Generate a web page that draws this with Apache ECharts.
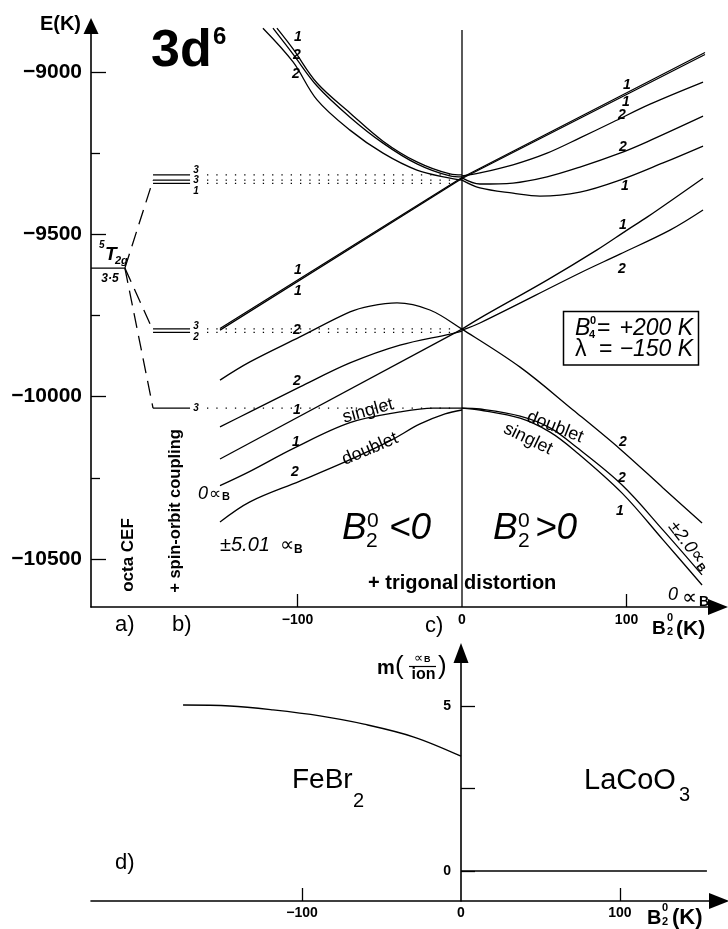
<!DOCTYPE html>
<html><head><meta charset="utf-8">
<script src="https://cdn.jsdelivr.net/npm/echarts@6/dist/echarts.min.js"></script>
<style>html,body{margin:0;padding:0;background:#fff}#c{width:728px;height:929px}</style>
</head><body><div id="c"></div>
<script>
// ================= DATA (B20 in K, E in K) =================
// octahedral CEF level and spin-orbit levels
const T2G_LEVEL = [[-225.5, -9604], [-204.9, -9604]];
const SO_JUNCTION = [-204.9, -9604];
const SO_TARGETS = [[-187.8, -9333], [-187.8, -9796], [-187.8, -10035]];
const SO_B = [-187.8, -165.3];
const SO_LEVELS = [-9317, -9333, -9343, -9791, -9802, -10035];
const DOT_B = [-155, -4];
const ZERO_LINE = [[0, -8871], [0, -10647.8]];

// trigonal distortion, upper group
const U1 = [[-112.5,-8865],[-102.7,-8929],[-88.1,-9034],[-68.1,-9126],[-48.0,-9213],[-27.4,-9277],[-7.3,-9314],[0,-9317]];
const U2 = [[-114.9,-8865],[-102.7,-8945],[-88.1,-9043],[-68.1,-9139],[-48.0,-9219],[-27.4,-9283],[-7.3,-9320],[0,-9323]];
const U3 = [[-121.0,-8865],[-102.7,-8969],[-88.1,-9086],[-68.1,-9179],[-48.0,-9250],[-27.4,-9302],[-7.3,-9327],[0,-9333]];
const SING_A = [[-147.1,-9790],[0,-9325],[147.7,-8940]];
const SING_B = [[-147.1,-9795],[0,-9328],[147.7,-8946]];
const RB = [[0,-9320],[10.9,-9311],[31.0,-9286],[51.7,-9250],[71.7,-9203],[91.8,-9154],[114.3,-9099],[146.5,-9031]];
const RC = [[0,-9326],[10.9,-9345],[31.0,-9342],[51.7,-9323],[71.7,-9293],[96.0,-9250],[112.5,-9215],[146.5,-9136]];
const RD = [[0,-9333],[10.9,-9357],[31.0,-9373],[47.4,-9382],[71.7,-9370],[96.0,-9333],[122.2,-9280],[146.5,-9228]];

// middle group
const HUMP = [[-147.1,-9949],[-128.9,-9893],[-98.5,-9816],[-68.1,-9739],[-55.9,-9721],[-39.5,-9711],[-19.5,-9733],[0,-9792],[35.3,-9909],[67.5,-10041],[96.0,-10161],[122.2,-10281],[145.9,-10389]];
const M2 = [[-147.1,-10093],[-128.9,-10047],[-98.5,-9970],[-68.1,-9896],[-37.7,-9841],[-7.3,-9807],[0,-9798]];
const M1 = [[-147.1,-10192],[0,-9792]];
const R1 = [[0,-9792],[10.9,-9758],[51.7,-9641],[82.1,-9548],[100.3,-9487],[112.5,-9447],[146.5,-9327]];
const R2 = [[0,-9795],[10.9,-9773],[71.7,-9619],[96.0,-9561],[126.4,-9487],[146.5,-9425]];

// lowest group (singlet / doublet)
const SINGLET_L = [[-147.1,-10274],[-128.9,-10230],[-102.7,-10160],[-68.1,-10080],[-37.7,-10047],[-17.6,-10035],[0,-10035]];
const DOUBLET_L = [[-147.1,-10386],[-128.9,-10324],[-98.5,-10260],[-71.1,-10201],[-43.8,-10136],[-25.5,-10084],[-10.3,-10053],[0,-10041]];
const DOUBLET_R = [[0,-10035],[10.9,-10038],[35.3,-10060],[53.5,-10096],[68.7,-10152],[97.3,-10272],[122.2,-10411],[145.9,-10549]];
const SINGLET_R = [[0,-10035],[10.9,-10041],[35.3,-10066],[53.5,-10109],[68.7,-10167],[97.3,-10297],[122.2,-10441],[145.9,-10580]];

// magnetic moment panel d)
const M_FEBR2 = [[-174.8,5.03],[-145.3,5.0],[-118.2,4.88],[-88.7,4.70],[-61.0,4.45],[-29.6,4.06],[0,3.48]];
const M_LACOO3 = [[0,0],[154.7,0]];

// ticks
const E_MAJOR = [-10500,-10000,-9500,-9000];
const E_MINOR = [-10250,-9750,-9250];
const B_TICKS = [-100,100];
const B_LABELS = [-100,0,100];
const M_TICKS = [0,2.5,5];
const M_LABELS = [0,5];

// ================= RENDER =================
const FF = '"Liberation Sans", Arial, Helvetica, sans-serif';
function f(size, weight, style){ return (style||'normal')+' '+(weight||'normal')+' '+size+'px '+FF; }
const minus = v => (v < 0 ? '\u2212' + Math.abs(v) : String(v));
const BLACK = '#000';

function ln(data, o){
  o = o || {};
  return {type:'line', xAxisIndex:o.xi||0, yAxisIndex:o.yi||0, data:data, symbol:'none',
    smooth:o.smooth===undefined?0.35:o.smooth, silent:true, animation:false,
    lineStyle:{color:BLACK, width:o.w||1.3, type:o.type||'solid', cap:'butt'}};
}
const series = [];
series.push(ln(T2G_LEVEL,{smooth:false, w:1.4}));
SO_TARGETS.forEach(t => series.push(ln([SO_JUNCTION, t],{smooth:false, type:[15,8]})));
SO_LEVELS.forEach(e => series.push(ln([[SO_B[0],e],[SO_B[1],e]],{smooth:false, w:1.3})));
SO_LEVELS.forEach(e => series.push(ln([[DOT_B[0],e],[DOT_B[1],e]],{smooth:false, w:1.3, type:[1.3,8]})));
series.push(ln(ZERO_LINE,{smooth:false, w:1.3}));
[U1,U2,U3,RB,RC,RD,HUMP,M2,R1,R2,SINGLET_L,DOUBLET_L,DOUBLET_R,SINGLET_R].forEach(c => series.push(ln(c)));
[SING_A,SING_B,M1].forEach(c => series.push(ln(c,{smooth:false})));
series.push(ln(M_FEBR2,{xi:1, yi:2}));
series.push(ln(M_LACOO3,{xi:1, yi:2, smooth:false}));

function xAx(gi, min, max, labelMargin){
  return {gridIndex:gi, type:'value', min:min, max:max, position:'bottom',
    axisLine:{onZero:false, symbol:['none','triangle'], symbolSize:[16,20], lineStyle:{color:BLACK, width:1.6}},
    axisTick:{inside:true, length:13, customValues:B_TICKS, lineStyle:{color:BLACK, width:1.3}},
    axisLabel:{customValues:B_LABELS, formatter:minus, color:BLACK, fontWeight:'bold', fontSize:14, fontFamily:FF, margin:labelMargin},
    splitLine:{show:false}};
}

const ANN = [];
function T(x, y, text, font, align, rot, extra){
  const el = {type:'text', x:x, y:y, rotation:rot||0, z:50, silent:true,
    style:Object.assign({text:text, font:font, fill:BLACK, textAlign:align||'left', textVerticalAlign:'middle'}, extra||{})};
  ANN.push(el);
}
// top-left title and axis name
T(81,24,'E(K)',f(20,'bold'),'right');
T(151,52,'3d',f(52,'bold'));
T(213,37,'6',f(24,'bold'));
// 5T2g
T(99,245,'5',f(10,'bold','italic'));
T(105,255,'T',f(19,'bold','italic'));
T(115,261,'2g',f(11,'bold','italic'));
T(110,279,'3\u00b75',f(12,'bold','italic'),'center');
// spin-orbit level degeneracies
[[196,170,'3'],[196,180.5,'3'],[196,191,'1'],[196,326,'3'],[196,337,'2'],[196,408,'3']].forEach(a => T(a[0],a[1],a[2],f(10,'bold','italic'),'center'));
// curve degeneracies
[[298,37,'1'],[297,55,'2'],[296,74,'2'],[298,270,'1'],[298,291,'1'],[297,330,'2'],[297,381,'2'],[297,410,'1'],[296,442,'1'],[295,472,'2'],
 [627,85,'1'],[626,102,'1'],[622,115,'2'],[623,147,'2'],[625,186,'1'],[623,225,'1'],[622,269,'2'],[623,442,'2'],[622,478,'2'],[620,511,'1']]
 .forEach(a => T(a[0],a[1],a[2],f(14,'bold','italic'),'center'));
// vertical step labels
T(128,555,'octa CEF',f(17,'bold'),'center',Math.PI/2);
T(175,511,'+ spin-orbit coupling',f(16.5,'bold'),'center',Math.PI/2);
T(368,583,'+ trigonal distortion',f(20,'bold'));
// B20<0, B20>0
T(342,529,'B',f(37,'normal','italic')); T(367,521,'0',f(21)); T(366,541,'2',f(21)); T(389,529,'<0',f(37,'normal','italic'));
T(493,529,'B',f(37,'normal','italic')); T(518,521,'0',f(21)); T(518,541,'2',f(21)); T(535,529,'>0',f(37,'normal','italic'));
// moments
T(220,545,'\u00b15.01',f(20,'normal','italic')); T(280,545,'\u221d',f(20)); T(294,550,'B',f(12,'bold'));
T(198,494,'0',f(18,'normal','italic')); T(209,494,'\u221d',f(17)); T(222,497,'B',f(11,'bold'));
T(668,595,'0',f(18,'normal','italic')); T(682,598,'\u221d',f(21)); T(699,602,'B',f(14,'bold'));
T(689,546,'{a|\u00b12.0}{b|\u221d}{c|B}','', 'center', -0.92, {rich:{
  a:{font:f(18,'normal','italic'), fill:BLACK}, b:{font:f(19), fill:BLACK}, c:{font:f(11,'bold'), fill:BLACK, padding:[8,0,0,0]}}});
// singlet / doublet
T(368,411,'singlet',f(18),'center',0.27);
T(370,449,'doublet',f(18),'center',0.4);
T(555,427,'doublet',f(18),'center',-0.38);
T(528,439,'singlet',f(18),'center',-0.45);
// parameter box
ANN.push({type:'rect', z:40, silent:true, shape:{x:563.5, y:311.5, width:135, height:53.5}, style:{fill:'none', stroke:BLACK, lineWidth:1.5}});
T(575,329,'B',f(23,'normal','italic')); T(590,321,'0',f(11,'bold')); T(589,335,'4',f(11,'bold'));
T(597,329,'=',f(23)); T(693,329,'+200 K',f(23,'normal','italic'),'right');
T(575,350,'\u03bb',f(23)); T(599,350,'=',f(23)); T(693,350,'\u2212150 K',f(23,'normal','italic'),'right');
// top x axis name
T(652,629,'B',f(19,'bold')); T(667,618,'0',f(11,'bold')); T(667,632,'2',f(11,'bold')); T(676,629,'(K)',f(21,'bold'));
T(115,625,'a)',f(22)); T(172,625,'b)',f(22)); T(425,626,'c)',f(22));
// bottom panel
T(377,668,'m',f(20,'bold')); T(395,667,'(',f(26)); T(414,658,'\u221d',f(13)); T(424,660,'B',f(9,'bold'));
ANN.push({type:'line', z:40, silent:true, shape:{x1:409, y1:666.5, x2:436, y2:666.5}, style:{stroke:BLACK, lineWidth:1.2}});
T(423.5,675,'ion',f(16,'bold'),'center'); T(438,667,')',f(26));
T(292,780,'FeBr',f(28)); T(353,801,'2',f(20));
T(584,781,'LaCoO',f(29)); T(679,795,'3',f(20));
T(115,863,'d)',f(22));
T(647,918,'B',f(20,'bold')); T(662,908,'0',f(11,'bold')); T(662,922,'2',f(11,'bold')); T(672,918,'(K)',f(22,'bold'));

const chart = echarts.init(document.getElementById('c'), null, {renderer:'canvas'});
chart.setOption({
  animation:false,
  backgroundColor:'#fff',
  grid:[
    {left:91, top:26, width:627, height:581, containLabel:false, outerBoundsMode:'none'},
    {left:91, top:653, width:628, height:248, containLabel:false, outerBoundsMode:'none'}
  ],
  xAxis:[ xAx(0,-225.5,155.6,6), xAx(1,-232.7,162.3,5) ],
  yAxis:[
    {gridIndex:0, type:'value', min:-10647.8, max:-8858.3, position:'left',
     axisLine:{onZero:false, symbol:['none','triangle'], symbolSize:[15,16], lineStyle:{color:BLACK, width:1.6}},
     axisTick:{inside:true, length:15, customValues:E_MAJOR, lineStyle:{color:BLACK, width:1.3}},
     axisLabel:{customValues:E_MAJOR, formatter:minus, color:BLACK, fontWeight:'bold', fontSize:21, fontFamily:FF, margin:9},
     splitLine:{show:false}},
    {gridIndex:0, type:'value', min:-10647.8, max:-8858.3, position:'left', offset:0,
     axisLine:{show:false, onZero:false},
     axisTick:{inside:true, length:9, customValues:E_MINOR, lineStyle:{color:BLACK, width:1.3}},
     axisLabel:{show:false}, splitLine:{show:false}},
    {gridIndex:1, type:'value', min:-0.909, max:6.606, position:'left', offset:-370,
     axisLine:{onZero:false, symbol:['none','triangle'], symbolSize:[15,20], lineStyle:{color:BLACK, width:1.6}},
     axisTick:{inside:true, length:14, customValues:M_TICKS, lineStyle:{color:BLACK, width:1.3}},
     axisLabel:{customValues:M_LABELS, color:BLACK, fontWeight:'bold', fontSize:14, fontFamily:FF, margin:10},
     splitLine:{show:false}}
  ],
  series:series,
  graphic:{elements:ANN}
});
</script></body></html>
